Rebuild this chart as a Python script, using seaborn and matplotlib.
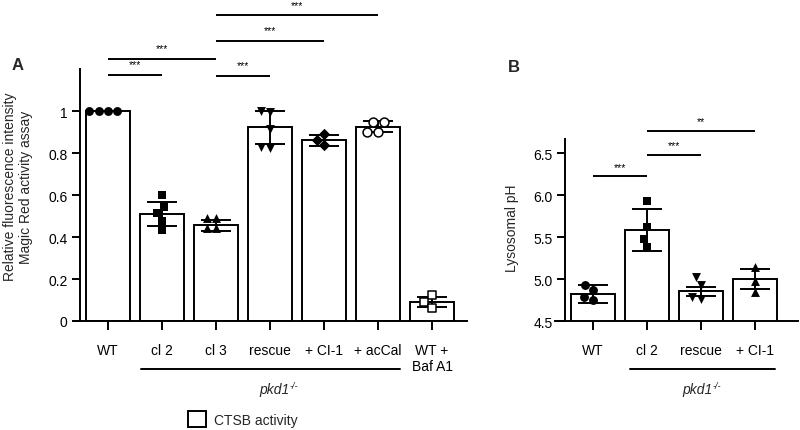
import matplotlib
matplotlib.use('Agg')
import matplotlib.pyplot as plt
import matplotlib.transforms as mtransforms
from matplotlib.patches import Patch
import seaborn as sns
import numpy as np

# ---------------- data: panel A ----------------
a_groups = ['WT', 'cl 2', 'cl 3', 'rescue', '+ CI-1', '+ acCal', 'WT +\nBaf A1']
a_means = [1.0, 0.508, 0.456, 0.922, 0.861, 0.926, 0.089]
a_sds = [0.0, 0.057, 0.026, 0.077, 0.026, 0.025, 0.024]
a_pts_wt = [1.0, 1.0, 1.0, 1.0]
a_pts_cl2 = [0.600, 0.541, 0.514, 0.478, 0.433]
a_pts_cl3 = [0.490, 0.490, 0.441, 0.441]
a_pts_rescue = [0.994, 1.000, 0.914, 0.822, 0.827]
a_pts_ci1 = [0.890, 0.863, 0.840]
a_pts_accal = [0.946, 0.946, 0.901, 0.901]
a_pts_baf = [0.124, 0.092, 0.060]
a_points = [a_pts_wt, a_pts_cl2, a_pts_cl3, a_pts_rescue, a_pts_ci1, a_pts_accal, a_pts_baf]
a_markers = ['o', 's', '^', 'v', 'D', 'o', 's']
a_open = [False, False, False, False, False, True, True]
a_sig_pairs = [('cl 3', '+ acCal'), ('cl 3', '+ CI-1'), ('WT', 'cl 3'), ('WT', 'cl 2'), ('cl 3', 'rescue')]
a_sig_levels = [1.457, 1.335, 1.248, 1.173, 1.167]
a_sig_labels = ['***', '***', '***', '***', '***']
a_yticks = [0, 0.2, 0.4, 0.6, 0.8, 1.0]
a_yticklabels = ['0', '0.2', '0.4', '0.6', '0.8', '1']

# ---------------- data: panel B ----------------
b_groups = ['WT', 'cl 2', 'rescue', '+ CI-1']
b_means = [4.82, 5.58, 4.855, 5.0]
b_sds = [0.11, 0.25, 0.055, 0.124]
b_pts_wt = [4.93, 4.87, 4.78, 4.75]
b_pts_cl2 = [5.93, 5.62, 5.48, 5.38]
b_pts_rescue = [5.02, 4.93, 4.79, 4.76]
b_pts_ci1 = [5.14, 4.98, 4.84]
b_points = [b_pts_wt, b_pts_cl2, b_pts_rescue, b_pts_ci1]
b_markers = ['o', 's', 'v', '^']
b_open = [False, False, False, False]
b_sig_pairs = [('WT', 'cl 2'), ('cl 2', 'rescue'), ('cl 2', '+ CI-1')]
b_sig_levels = [6.226, 6.48, 6.765]
b_sig_labels = ['***', '***', '**']
b_yticks = [4.5, 5.0, 5.5, 6.0, 6.5]
b_yticklabels = ['4.5', '5.0', '5.5', '6.0', '6.5']

# ---------------- style ----------------
sns.set_style('ticks')
plt.rcParams['font.family'] = ['Liberation Sans', 'DejaVu Sans']

W, H = 800, 431
fig = plt.figure(figsize=(8.0, 4.31), dpi=100)

def fx(px):
    return px / W

def fy(py):
    return 1 - py / H

LW = 1.4


def draw_panel(ax, groups, means, sds, points, markers, opens, sig_pairs, sig_levels,
               sig_labels, yticks, yticklabels, ylim, spine_x, spine_top, xlim, sig_off):
    sns.barplot(x=groups, y=means, order=groups, width=0.83, color='white',
                edgecolor='black', linewidth=LW, errorbar=None, ax=ax, zorder=2)
    ax.errorbar(np.arange(len(groups)), means, yerr=sds, fmt='none', ecolor='black',
                elinewidth=LW, capsize=11, capthick=LW, zorder=3)
    for g, vals, m, op in zip(groups, points, markers, opens):
        sz = 6.4 if m != 'D' else 5.8
        if op:
            sns.swarmplot(x=[g] * len(vals), y=vals, order=groups, marker=m, size=sz,
                          color='white', edgecolor='black', linewidth=1.1, ax=ax, zorder=4)
        else:
            sns.swarmplot(x=[g] * len(vals), y=vals, order=groups, marker=m, size=sz,
                          color='black', linewidth=0, ax=ax, zorder=4)
    ax.set_xlim(*xlim)
    ax.set_ylim(*ylim)
    ax.set_yticks(yticks)
    ax.set_yticklabels(yticklabels)
    ax.set_xlabel('')
    ax.set_ylabel('')
    sns.despine(ax=ax)
    ax.spines['left'].set_position(('data', spine_x))
    ax.spines['left'].set_bounds(ylim[0], spine_top)
    for s in ['left', 'bottom']:
        ax.spines[s].set_linewidth(LW)
        ax.spines[s].set_color('black')
    ax.tick_params(axis='y', direction='out', length=6, width=LW, pad=3, labelsize=10,
                   colors='black')
    ax.tick_params(axis='x', direction='out', length=6.5, width=LW, pad=9, labelsize=10,
                   colors='black')
    pos = {g: i for i, g in enumerate(groups)}
    for (g1, g2), lev, lab in zip(sig_pairs, sig_levels, sig_labels):
        ax.plot([pos[g1], pos[g2]], [lev, lev], color='black', lw=LW, clip_on=False,
                solid_capstyle='butt')
        ax.text((pos[g1] + pos[g2]) / 2, lev + sig_off, lab, ha='center', va='center',
                fontsize=7.5, color='black')


# panel A axes: x 75..467 px, y 5..322 px
axA = fig.add_axes([fx(75), fy(322), fx(467 - 75), (322 - 5) / H])
draw_panel(axA, a_groups, a_means, a_sds, a_points, a_markers, a_open, a_sig_pairs,
           a_sig_levels, a_sig_labels, a_yticks, a_yticklabels, (0, 1.51), -0.52, 1.2,
           (-0.611, 6.648), 0.05)

# panel B axes: x 555..798 px
axB = fig.add_axes([fx(555), fy(322), fx(798 - 555), (322 - 5) / H])
draw_panel(axB, b_groups, b_means, b_sds, b_points, b_markers, b_open, b_sig_pairs,
           b_sig_levels, b_sig_labels, b_yticks, b_yticklabels, (4.5, 8.274), -0.519, 6.67,
           (-0.704, 3.796), 0.11)

# y labels
fig.text(fx(18), fy(187), 'Relative fluorescence intensity\nMagic Red activity assay',
         rotation=90, ha='center', va='center', fontsize=10, linespacing=1.2)
fig.text(fx(512), fy(228), 'Lysosomal pH', rotation=90, ha='center', va='center',
         fontsize=10)

# panel letters
fig.text(fx(18), fy(66), 'A', fontsize=12, fontweight='bold', ha='center', va='center')
fig.text(fx(514), fy(67), 'B', fontsize=12, fontweight='bold', ha='center', va='center')


def pkd_label(ax, x0, x1, xc):
    tr = mtransforms.blended_transform_factory(ax.transData, fig.transFigure)
    ax.plot([x0, x1], [fy(370), fy(370)], color='black', lw=LW, transform=tr,
            clip_on=False)
    base = ax.text(xc - 0.11, fy(390), 'pkd1', transform=tr, ha='center', va='center',
                   fontsize=10, style='italic')
    ax.annotate('-/-', xy=(1.0, 0.78), xycoords=base, ha='left', va='center',
                fontsize=6.5, style='italic', annotation_clip=False)


pkd_label(axA, 0.61, 5.41, 3.19)
pkd_label(axB, 0.685, 3.37, 2.04)

# legend
fig.legend(handles=[Patch(facecolor='white', edgecolor='black', linewidth=LW)],
           labels=['CTSB activity'], loc='center left',
           bbox_to_anchor=(fx(182), fy(420)), frameon=False, fontsize=10,
           handlelength=1.3, handleheight=1.3, handletextpad=0.6, borderaxespad=0)

fig.savefig('out.png', dpi=100)
